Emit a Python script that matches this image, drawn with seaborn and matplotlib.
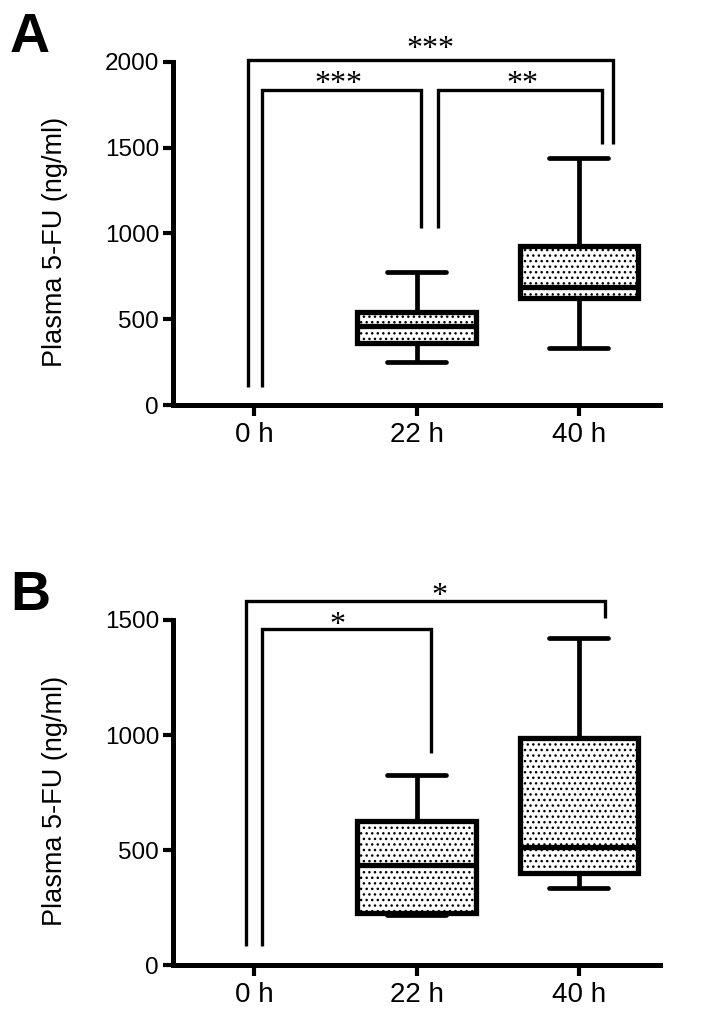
import numpy as np
import pandas as pd
import matplotlib
matplotlib.use("Agg")
import matplotlib.pyplot as plt
import seaborn as sns

# ---- data (five-number summaries: min, Q1, median, Q3, max) ----
groups = ["0 h", "22 h", "40 h"]
a_22h = [250, 360, 460, 545, 775]
a_40h = [330, 626, 690, 927, 1438]
b_22h = [218, 228, 435, 627, 826]
b_40h = [336, 400, 514, 988, 1423]
a_yticks = [0, 500, 1000, 1500, 2000]
b_yticks = [0, 500, 1000, 1500]
ylabel = "Plasma 5-FU (ng/ml)"

# significance brackets: (x_left, x_right, bar_y, left_end_y, right_end_y, label, text_x, text_y)
a_brackets = [
    (-0.04, 2.21, 2012, 105, 1522, "***", 1.085, 2070),
    (0.05, 1.03, 1837, 105, 1032, "***", 0.52, 1866),
    (1.13, 2.14, 1837, 1032, 1522, "**", 1.655, 1866),
]
b_brackets = [
    (-0.05, 2.16, 1583, 83, 1509, "*", 1.14, 1604),
    (0.05, 1.09, 1461, 83, 922, "*", 0.51, 1478),
]

sns.set_style("ticks")
plt.rcParams["font.family"] = ["Liberation Sans", "DejaVu Sans"]
for k in ["text.color", "axes.labelcolor", "xtick.color", "ytick.color", "axes.edgecolor"]:
    plt.rcParams[k] = "black"
plt.rcParams["hatch.linewidth"] = 1.0
plt.rcParams["hatch.color"] = "black"

W, H = 702, 1021
fig = plt.figure(figsize=(W / 100, H / 100), dpi=100)
axA = fig.add_axes([173 / W, (H - 405) / H, 487 / W, 343 / H])
axB = fig.add_axes([173 / W, (H - 965) / H, 487 / W, 345 / H])


def make_df(v22, v40):
    return pd.DataFrame({
        "time": ["22 h"] * len(v22) + ["40 h"] * len(v40),
        "conc": list(v22) + list(v40),
    })


def draw(ax, df, yticks, brackets):
    sns.boxplot(data=df, x="time", y="conc", order=groups, ax=ax,
                color="white", linecolor="black", linewidth=3.4,
                width=0.73, whis=(0, 100), fliersize=0,
                boxprops={"linewidth": 3.8}, medianprops={"linewidth": 3.8})
    for p in ax.patches:
        p.set_hatch("...")
        p.set_edgecolor("black")
    ax.set_xlim(-0.5, 2.5)
    ax.set_ylim(yticks[0], yticks[-1])
    ax.set_yticks(yticks)
    ax.set_xlabel("")
    ax.set_ylabel(ylabel, fontsize=19.5, color="black")
    ax.yaxis.set_label_coords(-0.216, 0.475)
    sns.despine(ax=ax)
    for s in ["left", "bottom"]:
        ax.spines[s].set_linewidth(3.6)
        ax.spines[s].set_color("black")
    ax.tick_params(axis="y", width=3.0, length=7, labelsize=17.5, pad=3, colors="black")
    ax.tick_params(axis="x", width=3.0, length=8, labelsize=20, pad=4, colors="black")
    for x1, x2, yb, y1, y2, lab, tx, ty in brackets:
        ax.plot([x1, x1, x2, x2], [y1, yb, yb, y2], color="black", lw=2.4,
                clip_on=False, solid_joinstyle="miter", solid_capstyle="butt")
        ax.text(tx, ty, lab, ha="center", va="center", fontsize=23, color="black",
                family=["Liberation Serif", "DejaVu Serif"], clip_on=False)


draw(axA, make_df(a_22h, a_40h), a_yticks, a_brackets)
draw(axB, make_df(b_22h, b_40h), b_yticks, b_brackets)

fig.text(10 / W, 1 - 52 / H, "A", fontsize=40, fontweight="bold", va="baseline", ha="left", color="black")
fig.text(10 / W, 1 - 610 / H, "B", fontsize=40, fontweight="bold", va="baseline", ha="left", color="black")

fig.savefig("out.png", dpi=100)
